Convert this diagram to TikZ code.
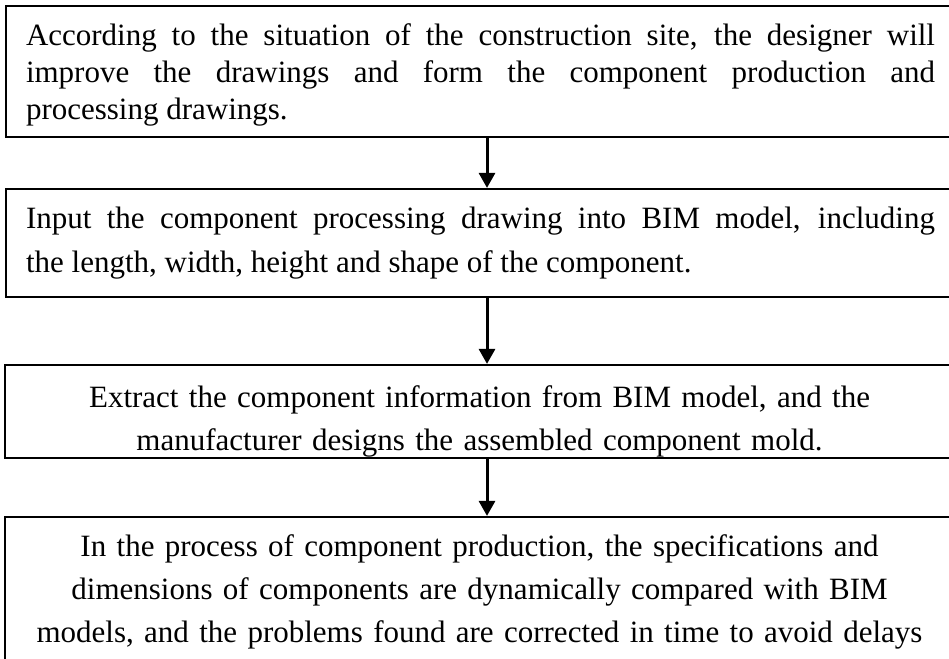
\documentclass[tikz,border=0pt]{standalone}
\usepackage{fontspec}
\setmainfont{Liberation Serif}
\usetikzlibrary{positioning,arrows.meta}

\begin{document}
\begin{tikzpicture}[x=1pt,y=-1pt,
  stepbox/.style={draw,line width=2.2pt,inner xsep=20pt,inner ysep=0pt,text width=909pt},
  flowarrow/.style={line width=3pt,-{Triangle[length=15pt,width=16pt]}}]
\useasboundingbox (0,0) rectangle (949,658);

% the four steps
\node[stepbox,align=justify,minimum height=131pt,text depth=73pt,font=\fontsize{31}{37}\selectfont] (drawings) at (480.5,71.5)
  {According to the situation of the construction site, the designer will\linebreak
   improve the drawings and form the component production and\linebreak
   processing drawings.};
\node[stepbox,align=justify,minimum height=108pt,font=\fontsize{31}{44}\selectfont] (input) at (480.5,243)
  {Input the component processing drawing into BIM model, including\linebreak
   the length, width, height and shape of the component.};
\node[stepbox,align=center,minimum height=93pt,text depth=30pt,font=\fontsize{31}{43}\selectfont] (extract) at (479.5,411.5)
  {Extract the component information from BIM model, and the\\
   manufacturer designs the assembled component mold.};
\node[stepbox,align=center,minimum height=150pt,font=\fontsize{31}{43}\selectfont] (production) at (479.5,592)
  {In the process of component production, the specifications and\\
   dimensions of components are dynamically compared with BIM\\
   models, and the problems found are corrected in time to avoid delays};

\draw[flowarrow] ([xshift=6.5pt]drawings.south) -- ([xshift=6.5pt]input.north);
\draw[flowarrow] ([xshift=6.5pt]input.south) -- ([xshift=7.5pt]extract.north);
\draw[flowarrow] ([xshift=7.5pt]extract.south) -- ([xshift=7.5pt]production.north);
\end{tikzpicture}
\end{document}
